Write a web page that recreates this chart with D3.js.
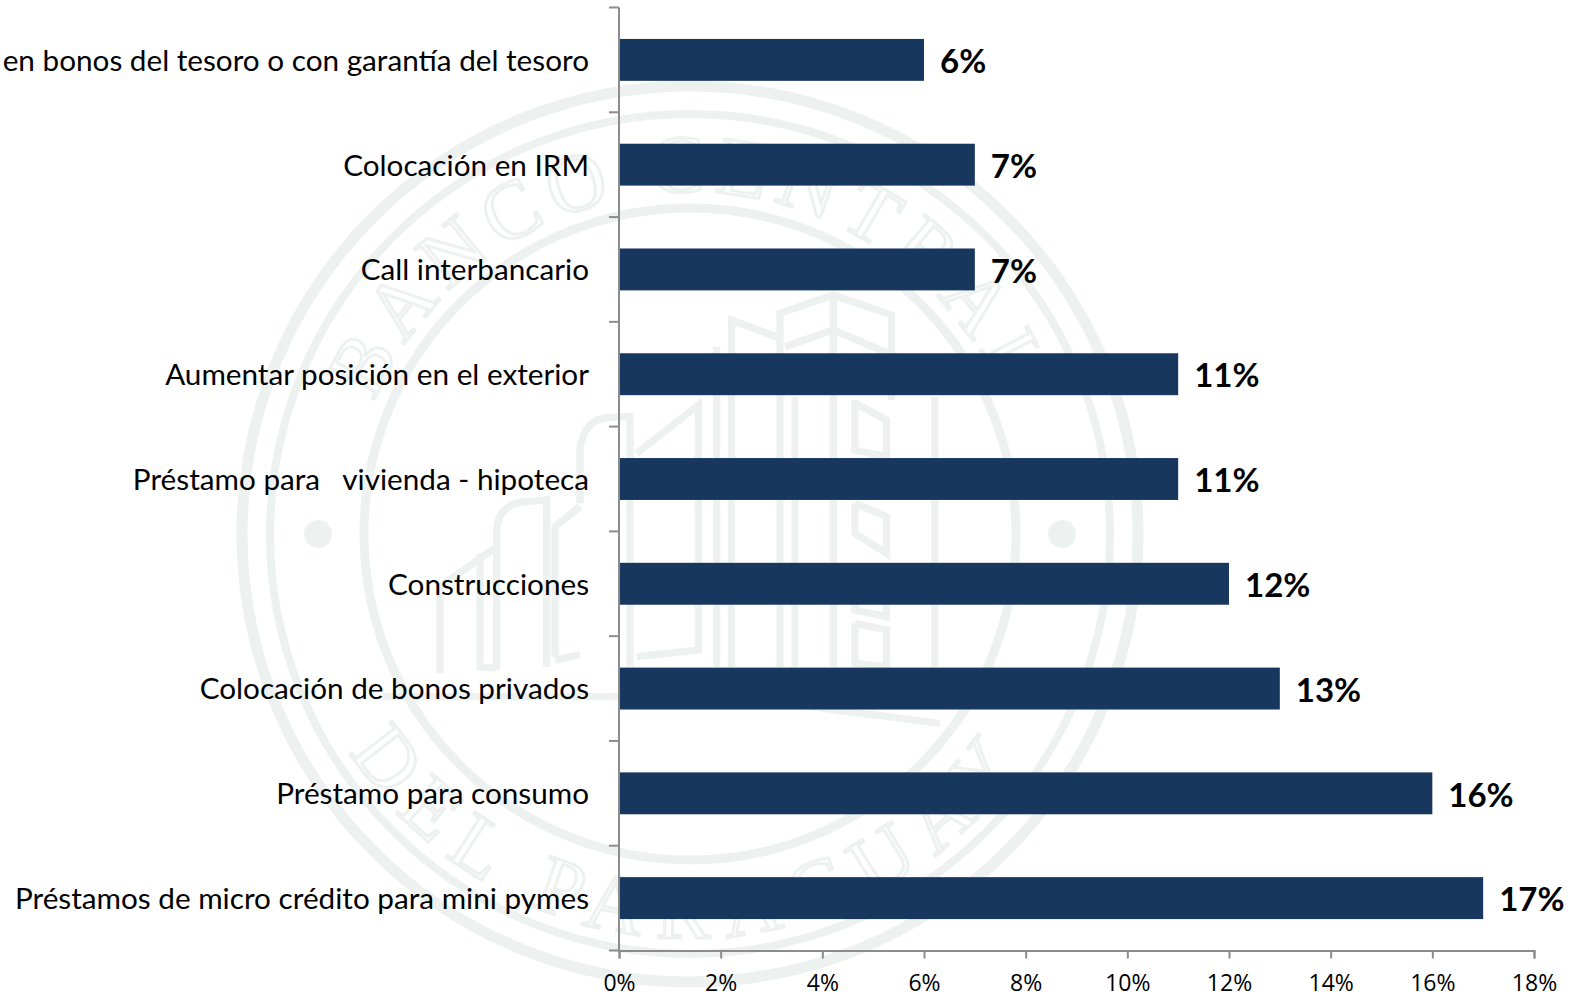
<!DOCTYPE html>
<html>
<head>
<meta charset="utf-8">
<script src="https://cdn.jsdelivr.net/npm/d3@7"></script>
<style>
  body { margin: 0; background: #fff; }
  svg { display: block; }
</style>
</head>
<body>
<div id="grafica"></div>
<script>
const categories = [
  "en bonos del tesoro o con garantía del tesoro",
  "Colocación en IRM",
  "Call interbancario",
  "Aumentar posición en el exterior",
  "Préstamo para \u00a0 vivienda - hipoteca",
  "Construcciones",
  "Colocación de bonos privados",
  "Préstamo para consumo",
  "Préstamos de micro crédito para mini pymes"
];
const values = [6, 7, 7, 11, 11, 12, 13, 16, 17];
const xTicks = [0, 2, 4, 6, 8, 10, 12, 14, 16, 18];

const width = 1579, height = 996;
const x0 = 619, x1 = 1534, yTop = 7.5, yBottom = 950.5;
const sealColor = "#edf2f1";

const svg = d3.select("#grafica").append("svg")
  .attr("width", width)
  .attr("height", height);

// watermark behind the chart
const seal = svg.append("g")
  .attr("transform", "translate(690,534)")
  .attr("fill", "none")
  .attr("stroke", sealColor);

[[448, 11], [420, 8], [326, 9]].forEach(function(r) {
  seal.append("circle").attr("r", r[0]).attr("stroke-width", r[1]);
});
[-372, 372].forEach(function(cx) {
  seal.append("circle").attr("cx", cx).attr("r", 14)
    .attr("fill", sealColor).attr("stroke", "none");
});

svg.append("defs").selectAll("path")
  .data([
    { id: "arcoArriba", d: "M-342,0 A342,342 0 0 1 342,0" },
    { id: "arcoAbajo", d: "M-404,0 A404,404 0 0 0 404,0" }
  ])
  .enter().append("path")
    .attr("id", function(d) { return d.id; })
    .attr("d", function(d) { return d.d; });

[["arcoArriba", "BANCO CENTRAL", 9], ["arcoAbajo", "DEL PARAGUAY", 16]].forEach(function(t) {
  seal.append("text")
    .attr("font-family", "'Liberation Serif', serif")
    .attr("font-size", 82)
    .attr("letter-spacing", t[2])
    .attr("fill", "#fff")
    .attr("stroke", sealColor)
    .attr("stroke-width", 3)
    .attr("text-anchor", "middle")
    .append("textPath")
      .attr("href", "#" + t[0])
      .attr("startOffset", "50%")
      .text(t[1]);
});

// building of the seal, traced at 3x so the numbers are easier to check
seal.append("g")
  .attr("transform", "translate(-260,-244) scale(0.3333)")
  .attr("stroke-width", 22)
  .selectAll("path")
  .data([
    "M30,1150 L30,890 L200,770",
    "M200,1140 L200,730 Q200,640 290,635 L350,630 L350,1130",
    "M375,1100 L375,710 L450,650 M375,1110 L450,1095",
    "M150,790 L150,1130 L200,1135",
    "M450,640 L450,480 Q460,385 540,382 L600,380 L600,1130",
    "M620,490 L805,345 L805,1080 L620,1100",
    "M860,1130 L860,170",
    "M905,1130 L905,90 L1050,145",
    "M1050,1130 L1050,70 L1210,15 L1385,75 L1385,330",
    "M1065,170 L1210,120 L1375,190",
    "M1095,320 L1095,1130",
    "M1210,15 L1210,1130",
    "M1275,330 L1275,480 L1370,500 L1370,390 L1275,340",
    "M1275,640 L1275,730 L1370,790 L1370,680 L1275,640",
    "M1275,850 L1275,960 L1370,980 L1370,880 L1275,850",
    "M1275,1000 L1275,1120 L1370,1130 L1370,1020 L1275,1000",
    "M1515,320 L1515,1130",
    "M-140,1220 L570,1220",
    "M1100,1245 L1530,1300"
  ])
  .enter().append("path")
    .attr("d", function(d) { return d; });

// y is a band scale, the bars leave 60% of every band empty
const x = d3.scaleLinear().domain([0, 18]).range([x0, x1]);
const y = d3.scaleBand().domain(categories).range([yTop, yBottom]).paddingInner(0.6).paddingOuter(0.3);

svg.selectAll("rect.barra")
  .data(values)
  .enter().append("rect")
    .attr("class", "barra")
    .attr("x", x(0))
    .attr("y", function(d, i) { return y(categories[i]); })
    .attr("width", function(d) { return x(d) - x(0); })
    .attr("height", y.bandwidth())
    .attr("fill", "#18375e");

// Category labels
svg.selectAll("text.categoria")
  .data(categories)
  .enter().append("text")
    .attr("class", "categoria")
    .attr("x", 589)
    .attr("y", function(d) { return y(d) + y.bandwidth() / 2 + 2; })
    .attr("dy", "0.3em")
    .attr("text-anchor", "end")
    .attr("font-family", "Lato, sans-serif")
    .attr("font-size", 29.7)
    .attr("fill", "#000")
    .text(function(d) { return d; });

// Value labels
svg.selectAll("text.valor")
  .data(values)
  .enter().append("text")
    .attr("class", "valor")
    .attr("x", function(d) { return x(d) + 16; })
    .attr("y", function(d, i) { return y(categories[i]) + y.bandwidth() / 2 + 1; })
    .attr("dy", "0.37em")
    .attr("font-family", "Lato, sans-serif")
    .attr("font-weight", "bold")
    .attr("font-size", 33)
    .attr("fill", "#000")
    .text(function(d) { return d + "%"; });

// Axes
const axisColor = "#8c8c8c";
const xAxis = svg.append("g")
  .attr("transform", "translate(0," + yBottom + ")")
  .call(d3.axisBottom(x).tickValues(xTicks).tickSize(8).tickPadding(16).tickFormat(function(d) { return d + "%"; }));
xAxis.selectAll("text")
  .attr("font-family", "'Open Sans', sans-serif")
  .attr("font-size", 23)
  .attr("fill", "#000");

const yEdges = d3.range(categories.length + 1).map(function(i) { return yTop + i * y.step(); });
const yAxis = svg.append("g").attr("transform", "translate(" + x0 + ",0)");
yAxis.append("line")
  .attr("y1", yTop)
  .attr("y2", yBottom);
yAxis.selectAll("line.marca")
  .data(yEdges)
  .enter().append("line")
    .attr("class", "marca")
    .attr("x1", -10)
    .attr("x2", 0)
    .attr("y1", function(d) { return d; })
    .attr("y2", function(d) { return d; });

xAxis.selectAll("path").attr("stroke", axisColor).attr("stroke-width", 2);
xAxis.selectAll("line").attr("stroke", axisColor).attr("stroke-width", 2);
yAxis.selectAll("line").attr("stroke", axisColor).attr("stroke-width", 2);
</script>
</body>
</html>
